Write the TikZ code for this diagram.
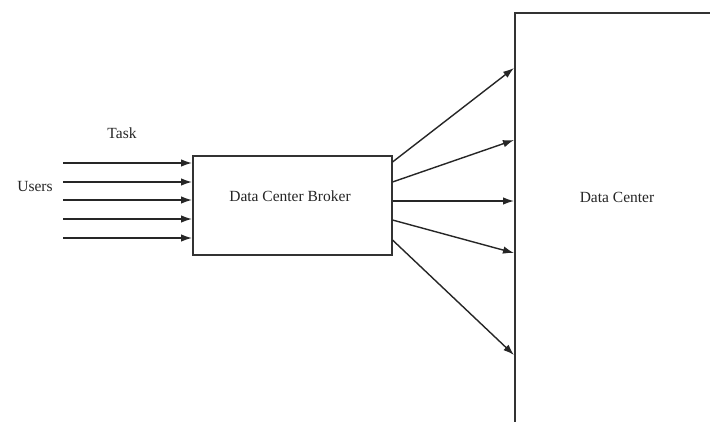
\documentclass[tikz,border=0pt]{standalone}
\usepackage{fontspec}
\setmainfont{Liberation Serif}
\usetikzlibrary{arrows.meta}
\begin{document}
\begin{tikzpicture}[x=1pt,y=-1pt,
  box/.style={draw=black!80,line width=1.5pt,rectangle,inner sep=0pt},
  lbl/.style={font=\fontsize{15.5}{17}\selectfont,inner sep=0pt,text=black!85},
  arr/.style={draw=black!85,line width=1.4pt,-{Latex[length=11pt,width=7.5pt]}}]
\clip (0,0) rectangle (710,421);
\fill[white] (0,0) rectangle (710,421);
% nodes
\node[box,minimum width=199pt,minimum height=99pt,anchor=north west] (broker) at (192,155) {};
\node[lbl] (brokerlbl) at (290,196) {Data Center Broker};
\node[box,minimum width=300pt,minimum height=500pt,anchor=north west] (dc) at (514,12) {};
\node[lbl] (dclbl) at (617,197) {Data Center};
\node[lbl] (task) at (122,133) {Task};
\node[lbl] (users) at (35,186) {Users};
% input arrows
\foreach \i/\y in {1/163,2/182,3/200,4/219,5/238}{
  \coordinate (u\i) at (63,\y);
  \draw[arr] (u\i) -- (u\i -| broker.west);
}
% output arrows
\foreach \i/\ys/\ye in {1/162/68,2/182/140,3/201/201,4/220/253,5/240/355}{
  \coordinate (s\i) at (broker.east |- 0,\ys);
  \coordinate (e\i) at (dc.west |- 0,\ye);
  \draw[arr] (s\i) -- (e\i);
}
\end{tikzpicture}
\end{document}
